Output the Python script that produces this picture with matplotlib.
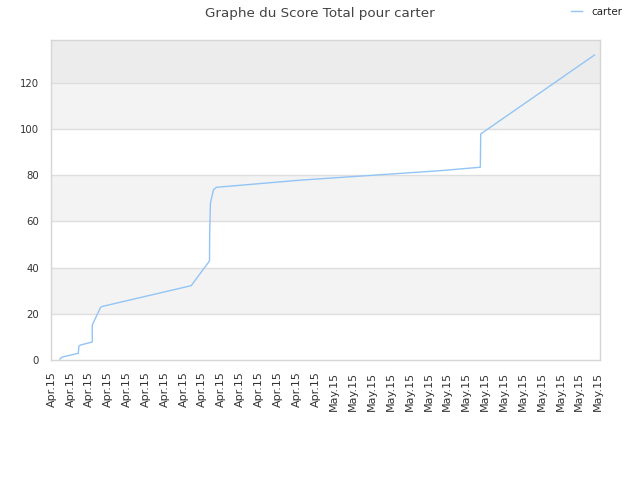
import matplotlib
matplotlib.use("Agg")
import matplotlib.pyplot as plt

# data (x in tick-index units, y score)
x_vals = [0.44, 0.57, 1.42, 1.45, 1.54, 2.16, 2.16, 2.60, 2.69, 7.41, 8.38, 8.39,
          8.43, 8.59, 8.75, 13.20, 20.63, 22.75, 22.77, 28.81]
y_vals = [0.4, 1.3, 2.9, 6.0, 6.5, 7.8, 15.2, 22.8, 23.2, 32.2, 42.9, 55.5,
          68.0, 73.7, 74.8, 77.9, 82.0, 83.5, 97.9, 132.1]
tick_labels = ["Apr.15"] * 15 + ["May.15"] * 15
y_ticks = [0, 20, 40, 60, 80, 100, 120]
series_name = "carter"
title = "Graphe du Score Total pour carter"

fig = plt.figure(figsize=(6.4, 4.8), dpi=100)
ax = fig.add_axes([51 / 640, 1 - 360 / 480, 549 / 640, 320 / 480])
ymax = 138.6
ax.set_ylim(0, ymax)
ax.set_xlim(-0.03, 29.1)

# alternating bands
band_colors = ["#ffffff", "#f3f3f3"]
edges = y_ticks + [ymax]
for i in range(len(edges) - 1):
    c = band_colors[i % 2]
    if i == len(edges) - 2:
        c = "#ececec"
    ax.axhspan(edges[i], edges[i + 1], color=c, zorder=0, lw=0)
for yt in y_ticks[1:]:
    ax.axhline(yt, color="#dedede", lw=1, zorder=1)

ax.plot(x_vals, y_vals, color="#92c5f5", lw=1.0, zorder=3, label=series_name)

ax.set_yticks(y_ticks)
ax.set_xticks(range(len(tick_labels)))
ax.set_xticklabels(tick_labels, rotation=90)
ax.tick_params(axis="x", length=0, labelsize=8, colors="#333333", pad=8.2)
ax.tick_params(axis="y", length=0, labelsize=7.3, colors="#333333", pad=8.6)
for s in ax.spines.values():
    s.set_color("#d6d6d6")
    s.set_linewidth(1)

fig.text(0.5, 1 - 13 / 480, title, ha="center", va="center", fontsize=9.7, color="#444444")
leg = fig.legend(loc="center right", bbox_to_anchor=(622 / 640, 1 - 12 / 480), frameon=False,
                 fontsize=7.4, handlelength=1.0, handletextpad=0.9, borderaxespad=0,
                 borderpad=0)
for t in leg.get_texts():
    t.set_color("#222222")

fig.savefig("out.png", dpi=100)
